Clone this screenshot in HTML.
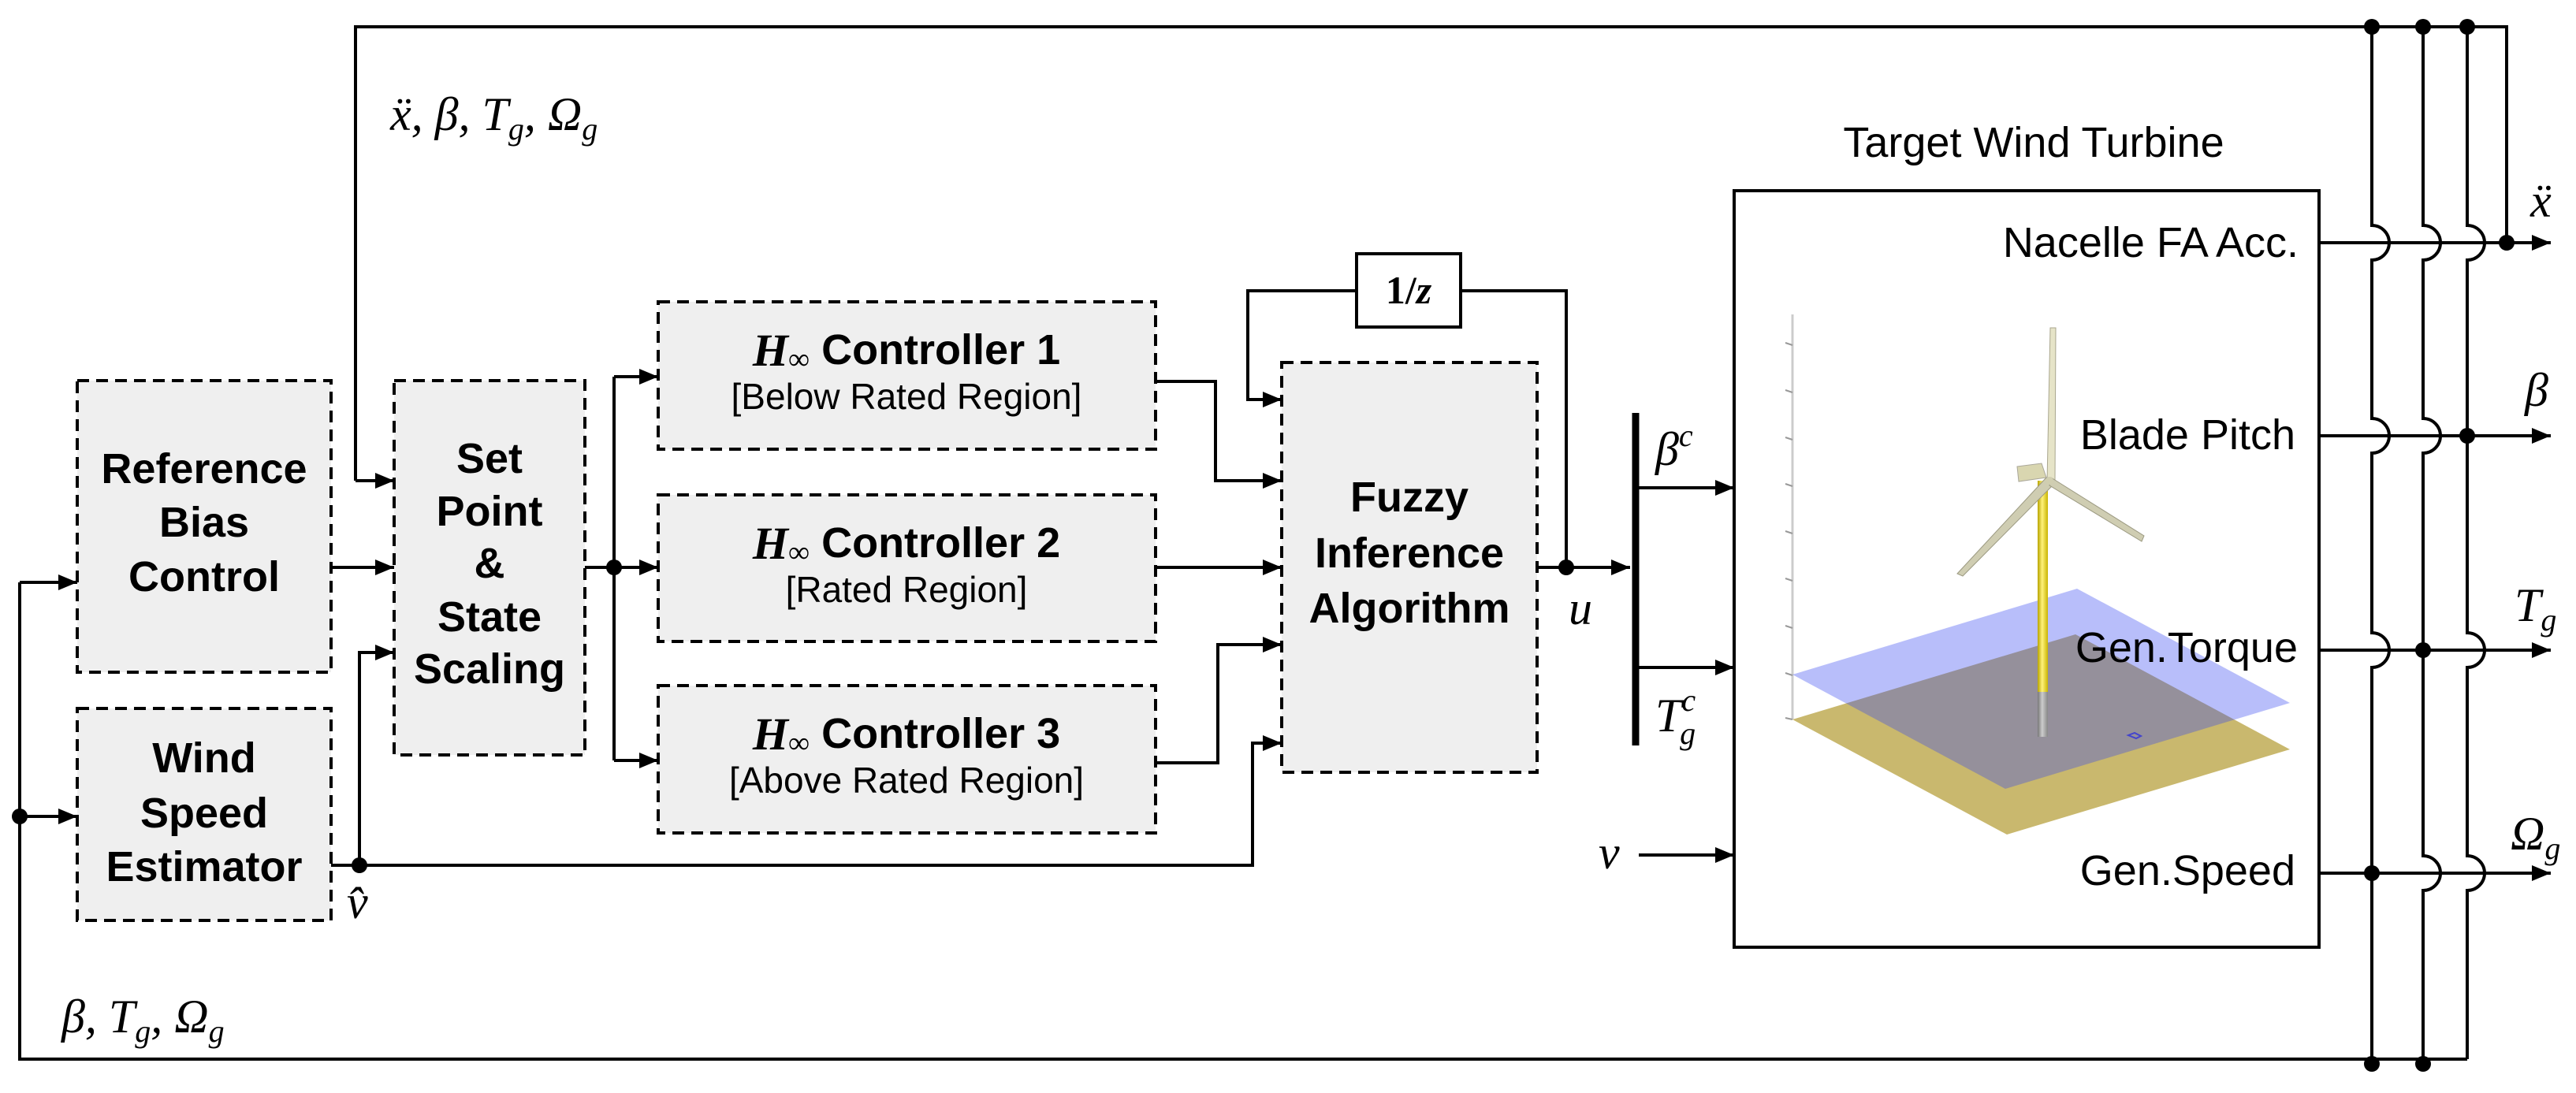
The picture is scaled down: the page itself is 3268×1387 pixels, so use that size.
<!DOCTYPE html>
<html><head><meta charset="utf-8"><style>
html,body{margin:0;padding:0;background:#fff}
svg{display:block}
.b{font-family:"Liberation Sans",sans-serif;font-weight:bold;font-size:54px;fill:#000}
.r{font-family:"Liberation Sans",sans-serif;font-size:46px;fill:#000}
.t{font-family:"Liberation Sans",sans-serif;font-size:54px;fill:#000}
.m{font-family:"Liberation Serif",serif;font-style:italic;font-size:60px;fill:#000}
.ms{font-family:"Liberation Serif",serif;font-style:italic;font-size:40px;fill:#000}
</style></head><body>
<svg width="3268" height="1387" viewBox="0 0 3268 1387" xmlns="http://www.w3.org/2000/svg">
<defs>
<marker id="ah" markerWidth="24" markerHeight="20" refX="10" refY="5" orient="auto" markerUnits="userSpaceOnUse" viewBox="0 0 10 10" preserveAspectRatio="none">
<path d="M0,0 L10,5 L0,10 z" fill="#000"/>
</marker>
<linearGradient id="tw" x1="0" x2="1"><stop offset="0" stop-color="#b8a400"/><stop offset="0.45" stop-color="#fff27a"/><stop offset="1" stop-color="#c9b400"/></linearGradient>
<linearGradient id="tg" x1="0" x2="1"><stop offset="0" stop-color="#777"/><stop offset="0.45" stop-color="#ccc"/><stop offset="1" stop-color="#888"/></linearGradient>
</defs>
<g fill="none" stroke="#000" stroke-width="4">
<g fill="#efefef" stroke-dasharray="15 9">
<rect x="98" y="483" width="322" height="370"/>
<rect x="98" y="899" width="322" height="269"/>
<rect x="500" y="483" width="242" height="475"/>
<rect x="835" y="383" width="631" height="187"/>
<rect x="835" y="628" width="631" height="186"/>
<rect x="835" y="870" width="631" height="187"/>
<rect x="1626" y="460" width="324" height="520"/>
</g>
<rect x="1721" y="322" width="132" height="93" fill="#fff"/>
<rect x="2200" y="242" width="742" height="960" fill="#fff"/>
</g>
<g>
<line x1="2274" y1="399" x2="2274" y2="913" stroke="#ccc" stroke-width="3"/>
<g stroke="#999" stroke-width="2">
<line x1="2265" y1="435" x2="2274" y2="438"/><line x1="2265" y1="495" x2="2274" y2="498"/>
<line x1="2265" y1="555" x2="2274" y2="558"/><line x1="2265" y1="614" x2="2274" y2="617"/>
<line x1="2265" y1="674" x2="2274" y2="677"/><line x1="2265" y1="734" x2="2274" y2="737"/>
<line x1="2265" y1="794" x2="2274" y2="797"/><line x1="2265" y1="854" x2="2274" y2="857"/>
<line x1="2265" y1="911" x2="2274" y2="913"/>
</g>
<polygon points="2274,913 2633,805 2905,951 2546,1059" fill="#c9b86e"/>
<polygon points="2274,856 2635,747 2905,892 2544,1001" fill="rgba(52,69,240,0.35)"/>
<rect x="2585" y="878" width="13" height="57" fill="url(#tg)"/>
<rect x="2585" y="610" width="13" height="268" fill="url(#tw)"/>
<polygon points="2559,592 2590,588 2596,606 2561,611" fill="#d9d6b0" stroke="#aaa79a" stroke-width="1"/>
<polygon points="2597,612 2601,416 2608,416 2607,612" fill="#e6e4c8" stroke="#a9a68e" stroke-width="1"/>
<polygon points="2596,606 2483,728 2490,731 2604,616" fill="#cfcdb2" stroke="#9c9a82" stroke-width="1"/>
<polygon points="2602,606 2720,680 2717,687 2600,616" fill="#cfcdb2" stroke="#9c9a82" stroke-width="1"/>
<circle cx="2600" cy="610" r="5" fill="#d0ceb0"/>
<path d="M2700,933 l8,-3 l8,4 l-6,3 z" fill="none" stroke="#44c" stroke-width="2"/>
</g>
<g fill="none" stroke="#000" stroke-width="4">
<polyline points="451,610 451,34 3180,34 3180,308"/>
<polyline points="25,739 25,1344 3130,1344"/>
<line x1="25" y1="739" x2="98" y2="739" marker-end="url(#ah)"/>
<line x1="25" y1="1036" x2="98" y2="1036" marker-end="url(#ah)"/>
<line x1="451" y1="610" x2="500" y2="610" marker-end="url(#ah)"/>
<line x1="420" y1="720" x2="500" y2="720" marker-end="url(#ah)"/>
<polyline points="420,1098 1589,1098 1589,943 1626,943" marker-end="url(#ah)"/>
<polyline points="456,1098 456,828 500,828" marker-end="url(#ah)"/>
<line x1="742" y1="720" x2="835" y2="720" marker-end="url(#ah)"/>
<polyline points="779,478 779,965"/>
<line x1="779" y1="478" x2="835" y2="478" marker-end="url(#ah)"/>
<line x1="779" y1="965" x2="835" y2="965" marker-end="url(#ah)"/>
<polyline points="1466,484 1542,484 1542,610 1626,610" marker-end="url(#ah)"/>
<line x1="1466" y1="720" x2="1626" y2="720" marker-end="url(#ah)"/>
<polyline points="1466,968 1545,968 1545,818 1626,818" marker-end="url(#ah)"/>
<line x1="1950" y1="720" x2="2068" y2="720" marker-end="url(#ah)"/>
<polyline points="1987,720 1987,369 1853,369"/>
<polyline points="1721,369 1583,369 1583,507 1626,507" marker-end="url(#ah)"/>
<line x1="2075" y1="524" x2="2075" y2="946" stroke-width="9"/>
<line x1="2075" y1="619" x2="2200" y2="619" marker-end="url(#ah)"/>
<line x1="2075" y1="847" x2="2200" y2="847" marker-end="url(#ah)"/>
<line x1="2079" y1="1085" x2="2200" y2="1085" marker-end="url(#ah)"/>
<line x1="2942" y1="308" x2="3236" y2="308" marker-end="url(#ah)"/>
<line x1="2942" y1="553" x2="3236" y2="553" marker-end="url(#ah)"/>
<line x1="2942" y1="825" x2="3236" y2="825" marker-end="url(#ah)"/>
<line x1="2942" y1="1108" x2="3236" y2="1108" marker-end="url(#ah)"/>
<path d="M3009,34 V286 A22 22 0 0 1 3009,330 V531 A22 22 0 0 1 3009,575 V803 A22 22 0 0 1 3009,847 V1353"/>
<path d="M3074,34 V286 A22 22 0 0 1 3074,330 V531 A22 22 0 0 1 3074,575 V1086 A22 22 0 0 1 3074,1130 V1353"/>
<path d="M3130,34 V286 A22 22 0 0 1 3130,330 V803 A22 22 0 0 1 3130,847 V1086 A22 22 0 0 1 3130,1130 V1344"/>
</g>
<g fill="#000">
<circle cx="25" cy="1036" r="10"/><circle cx="456" cy="1098" r="10"/><circle cx="779" cy="720" r="10"/>
<circle cx="1987" cy="720" r="10"/>
<circle cx="3009" cy="34" r="10"/><circle cx="3074" cy="34" r="10"/><circle cx="3130" cy="34" r="10"/>
<circle cx="3180" cy="308" r="10"/><circle cx="3130" cy="553" r="10"/><circle cx="3074" cy="825" r="10"/>
<circle cx="3009" cy="1108" r="10"/><circle cx="3009" cy="1350" r="10"/><circle cx="3074" cy="1350" r="10"/>
</g>
<g text-anchor="middle" dominant-baseline="central">
<text class="b" x="259" y="595">Reference</text>
<text class="b" x="259" y="663">Bias</text>
<text class="b" x="259" y="732">Control</text>
<text class="b" x="259" y="962">Wind</text>
<text class="b" x="259" y="1032">Speed</text>
<text class="b" x="259" y="1100">Estimator</text>
<text class="b" x="621" y="582">Set</text>
<text class="b" x="621" y="649">Point</text>
<text class="b" x="621" y="715">&amp;</text>
<text class="b" x="621" y="783">State</text>
<text class="b" x="621" y="849">Scaling</text>
<text class="b" x="1788" y="631">Fuzzy</text>
<text class="b" x="1788" y="702">Inference</text>
<text class="b" x="1788" y="772">Algorithm</text>
<text class="b" x="1150" y="444"><tspan font-family="Liberation Serif" font-style="italic" font-size="58">H</tspan><tspan font-family="Liberation Serif" font-weight="normal" font-size="38" dy="12">∞</tspan><tspan dy="-12"> Controller 1</tspan></text>
<text class="r" x="1150" y="503">[Below Rated Region]</text>
<text class="b" x="1150" y="689"><tspan font-family="Liberation Serif" font-style="italic" font-size="58">H</tspan><tspan font-family="Liberation Serif" font-weight="normal" font-size="38" dy="12">∞</tspan><tspan dy="-12"> Controller 2</tspan></text>
<text class="r" x="1150" y="748">[Rated Region]</text>
<text class="b" x="1150" y="931"><tspan font-family="Liberation Serif" font-style="italic" font-size="58">H</tspan><tspan font-family="Liberation Serif" font-weight="normal" font-size="38" dy="12">∞</tspan><tspan dy="-12"> Controller 3</tspan></text>
<text class="r" x="1150" y="990">[Above Rated Region]</text>
<text x="1787" y="368" font-family="Liberation Serif" font-weight="bold" font-size="50">1/<tspan font-style="italic">z</tspan></text>
<text class="t" x="2580" y="181">Target Wind Turbine</text>
</g>
<g text-anchor="end" dominant-baseline="central">
<text class="t" x="2916" y="308">Nacelle FA Acc.</text>
<text class="t" x="2912" y="552">Blade Pitch</text>
<text class="t" x="2915" y="822">Gen.Torque</text>
<text class="t" x="2912" y="1105">Gen.Speed</text>
</g>
<text class="m" x="495" y="165">ẍ, β, T<tspan class="ms" dy="12">g</tspan><tspan dy="-12">, Ω</tspan><tspan class="ms" dy="12">g</tspan></text>
<text class="m" x="78" y="1310">β, T<tspan class="ms" dy="12">g</tspan><tspan dy="-12">, Ω</tspan><tspan class="ms" dy="12">g</tspan></text>
<text class="m" x="440" y="1165">v̂</text>
<text class="m" x="1990" y="792">u</text>
<text class="m" x="2028" y="1102">v</text>
<text class="m" x="2100" y="590">β<tspan class="ms" dy="-24">c</tspan></text>
<text class="m" x="2100" y="928">T<tspan class="ms" dy="-26">c</tspan><tspan class="ms" dx="-20" dy="42">g</tspan></text>
<text class="m" x="3210" y="275">ẍ</text>
<text class="m" x="3203" y="515">β</text>
<text class="m" x="3190" y="788">T<tspan class="ms" dy="12">g</tspan></text>
<text class="m" x="3185" y="1078">Ω<tspan class="ms" dy="12">g</tspan></text>
</svg>
</body></html>
